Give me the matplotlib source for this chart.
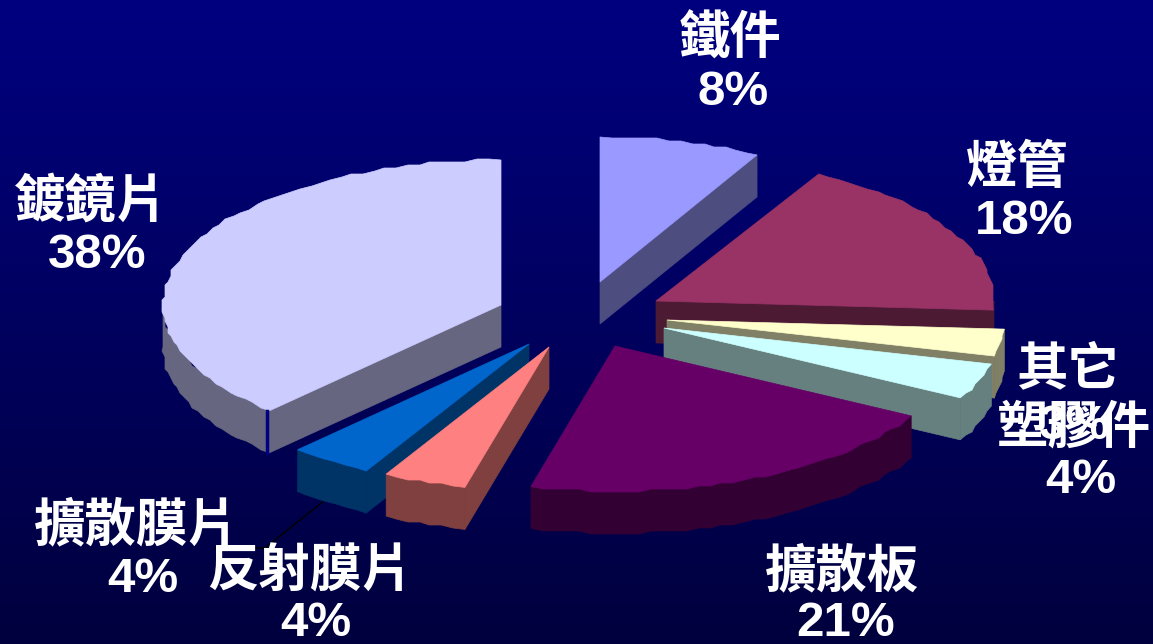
import numpy as np
import matplotlib
matplotlib.use('Agg')
import matplotlib.pyplot as plt

# Chart data (clockwise from 12 o'clock)
names = ['鐵件', '燈管', '其它', '塑膠件', '擴散板', '反射膜片', '擴散膜片', '鍍鏡片']
values = [8, 18, 3, 4, 21, 4, 4, 38]

top_colors = ['#9999FF', '#993366', '#FFFFCC', '#CCFFFF', '#660066', '#FF8080', '#0066CC', '#CCCCFF']
side_colors = ['#4D4D80', '#4D1A33', '#808066', '#668080', '#330033', '#804040', '#003366', '#666680']

# Layout, in pixels of the 1153x644 picture
WIDTH, HEIGHT = 1153, 644
radii_x = [326, 338, 338, 338, 338, 338, 338, 338]
RY = 145
DEPTH = 42
JAG = 3
apexes = [(600, 282), (656, 301), (667, 320), (664, 328), (615, 346), (549, 347), (529, 344), (501, 305)]
draw_order = [0, 7, 1, 2, 3, 6, 5, 4]
label_pos = [(730, 38, 733, 92), (1017, 167, 1024, 221), (1067, 369, 1074, 426), (1074, 427, 1081, 480),
             (842, 571, 846, 624), (310, 571, 316, 624), (137, 525, 143, 579), (91, 201, 97, 255)]


def rim(apex, rx, t0, t1):
    # outer edge of a slice, stepped like the low resolution original
    n = max(2, int((t1 - t0) / 2) + 1)
    t = np.radians(np.linspace(t0, t1, n))
    x = apex[0] + rx * np.sin(t)
    y = apex[1] - RY * np.cos(t)
    x[1:-1] = np.round(x[1:-1] / JAG) * JAG
    y[1:-1] = np.round(y[1:-1] / JAG) * JAG
    return x, y


def extrude(ax, x, y, color):
    xs = np.concatenate([x, x[::-1]])
    ys = np.concatenate([y, y[::-1] + DEPTH])
    ax.fill(xs, ys, color=color, lw=0.5, zorder=2)


fig = plt.figure(figsize=(WIDTH / 100, HEIGHT / 100), dpi=100)
ax = fig.add_axes([0, 0, 1, 1])
ax.set_xlim(0, WIDTH)
ax.set_ylim(HEIGHT, 0)
ax.axis('off')

# Background gradient
grad = np.zeros((256, 1, 3))
grad[:, 0, 2] = np.linspace(128, 62, 256) / 255
ax.imshow(grad, extent=(0, WIDTH, HEIGHT, 0), aspect='auto', zorder=0)

edges = np.cumsum([0] + values) * 3.6

for i in draw_order:
    t0, t1 = edges[i], edges[i + 1]
    apex = apexes[i]
    x, y = rim(apex, radii_x[i], t0, t1)

    # cut faces that look towards the viewer
    if np.sin(np.radians(t0)) < -1e-6:
        extrude(ax, np.array([apex[0], x[0]]), np.array([apex[1], y[0]]), side_colors[i])
    if np.sin(np.radians(t1)) > 1e-6:
        extrude(ax, np.array([apex[0], x[-1]]), np.array([apex[1], y[-1]]), side_colors[i])

    # front part of the outer wall
    lo, hi = max(t0, 90), min(t1, 270)
    if lo < hi:
        wx, wy = rim(apex, radii_x[i], lo, hi)
        extrude(ax, wx, wy, side_colors[i])

    ax.fill(np.concatenate([[apex[0]], x]), np.concatenate([[apex[1]], y]),
            color=top_colors[i], lw=0.5, zorder=2)

# Seam on the big slice and the leader line of the film label
seam_t = np.radians(edges[7])
seam_x = apexes[7][0] + radii_x[7] * np.sin(seam_t) - 3
seam_y = apexes[7][1] - RY * np.cos(seam_t)
ax.plot([seam_x, seam_x], [seam_y, seam_y + DEPTH], color='#000080', lw=2.5, zorder=3)
ax.plot([325, 265, 215], [500, 548, 548], color='black', lw=1, zorder=1)

# Labels
for i, (nx, ny, px, py) in enumerate(label_pos):
    ax.text(nx, ny, names[i], color='white', fontsize=37, ha='center', va='center',
            family=['Noto Sans CJK TC', 'DejaVu Sans'], weight='bold', zorder=4)
    ax.text(px, py, f'{values[i]}%', color='white', fontsize=35.5, ha='center', va='center',
            family='Liberation Sans', weight='bold', zorder=4)

fig.savefig('out.png', dpi=100)
